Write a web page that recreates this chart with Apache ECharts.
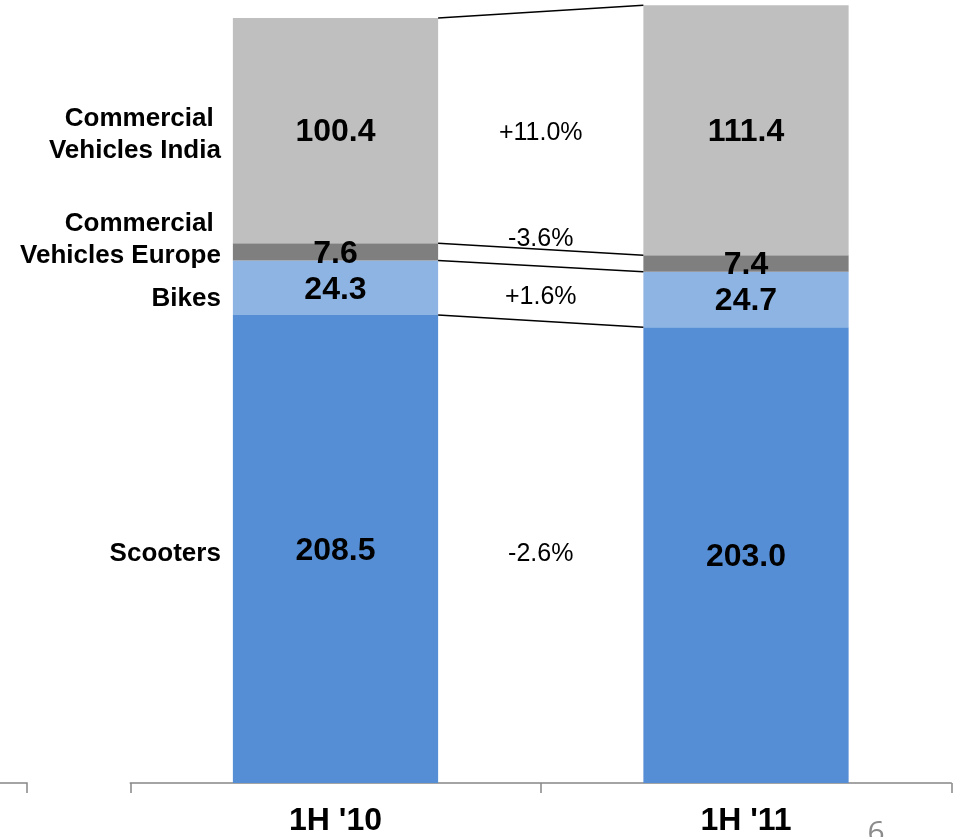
<!DOCTYPE html>
<html>
<head>
<meta charset="utf-8">
<title>Revenue by segment, 1H '10 vs 1H '11</title>
<script src="https://cdn.jsdelivr.net/npm/echarts@6/dist/echarts.min.js"></script>
<style>
  html, body { margin: 0; padding: 0; background: #ffffff; }
  #chart { width: 959px; height: 837px; }
</style>
</head>
<body>
<div id="chart"></div>
<script>
// Periods on the category axis
const categories = ["1H '10", "1H '11"];

// Segment values per period (stacked bottom to top)
const scooters = [208.5, 203.0];
const bikes = [24.3, 24.7];
const cvEurope = [7.6, 7.4];
const cvIndia = [100.4, 111.4];

// Segment names as shown beside the first bar
const segmentNames = ['Scooters', 'Bikes', 'Commercial Vehicles Europe', 'Commercial Vehicles India'];
const segmentLabels = ['Scooters', 'Bikes', 'Commercial \nVehicles Europe', 'Commercial \nVehicles India'];

// Period-on-period change for each segment
const growthLabels = ['-2.6%', '+1.6%', '-3.6%', '+11.0%'];

const pageNumber = '6';

// ---- styling ----
const FONT = '"Liberation Sans", Arial, Helvetica, sans-serif';
const segmentColors = ['#558ed5', '#8eb4e3', '#7f7f7f', '#bfbfbf'];
const BAR_RATIO = 0.5;
const AXIS_GREY = '#868686';
// small vertical nudges (px) for the side texts, keyed by segment
const sideLabelNudge = { 'Scooters': 5, 'Bikes': 11, 'Commercial Vehicles Europe': -12, 'Commercial Vehicles India': 4 };
const growthLabelNudge = { 'Scooters': 2, 'Bikes': 3, 'Commercial Vehicles Europe': -19, 'Commercial Vehicles India': 3 };

const seriesValues = [scooters, bikes, cvEurope, cvIndia];

// cumulative bottoms/tops of every segment in each period
const bounds = [];
const running = categories.map(() => 0);
seriesValues.forEach((vals, i) => {
  const lo = running.slice();
  vals.forEach((v, k) => { running[k] += v; });
  const hi = running.slice();
  bounds.push([0, hi[0], hi[1], lo[0], lo[1], i]);
});

const barSeries = seriesValues.map((vals, i) => ({
  name: segmentNames[i],
  type: 'bar',
  stack: 'total',
  barWidth: (BAR_RATIO * 100) + '%',
  data: vals,
  itemStyle: { color: segmentColors[i] },
  label: {
    show: true,
    position: 'inside',
    offset: [0, 2],
    formatter: p => p.value.toFixed(1),
    fontFamily: FONT,
    fontSize: 32,
    fontWeight: 'bold',
    color: '#000'
  },
  emphasis: { disabled: true },
  z: 2
}));

// connector lines between the bars, change labels and segment names
const bridgeSeries = {
  type: 'custom',
  name: 'bridge',
  clip: false,
  silent: true,
  encode: { x: 0, y: 1 },
  data: bounds,
  z: 3,
  renderItem(params, api) {
    const i = api.value(5);
    const name = segmentNames[i];
    const bandW = api.size([1, 0])[0];
    const half = bandW * BAR_RATIO / 2;
    const t0 = api.coord([0, api.value(1)]);
    const t1 = api.coord([1, api.value(2)]);
    const b0 = api.coord([0, api.value(3)]);
    const b1 = api.coord([1, api.value(4)]);
    const mid0 = (t0[1] + b0[1]) / 2;
    const mid1 = (t1[1] + b1[1]) / 2;
    return {
      type: 'group',
      children: [
        {
          type: 'line',
          shape: { x1: t0[0] + half, y1: t0[1], x2: t1[0] - half, y2: t1[1] },
          style: { stroke: '#000', lineWidth: 1.5 }
        },
        {
          type: 'text',
          style: {
            x: (t0[0] + t1[0]) / 2,
            y: (mid0 + mid1) / 2 + growthLabelNudge[name],
            text: growthLabels[i],
            align: 'center',
            verticalAlign: 'middle',
            fontFamily: FONT,
            fontSize: 25,
            fill: '#000'
          }
        },
        {
          type: 'text',
          style: {
            x: t0[0] - half - 12,
            y: mid0 + sideLabelNudge[name],
            text: segmentLabels[i],
            align: 'right',
            verticalAlign: 'middle',
            fontFamily: FONT,
            fontSize: 26,
            fontWeight: 'bold',
            lineHeight: 32,
            fill: '#000'
          }
        }
      ]
    };
  }
};

const chart = echarts.init(document.getElementById('chart'), null, { renderer: 'canvas' });
chart.setOption({
  animation: false,
  backgroundColor: '#ffffff',
  grid: { left: 130.25, right: 7.75, top: 1.8, height: 781.2, containLabel: false },
  xAxis: {
    type: 'category',
    data: categories,
    axisLine: { lineStyle: { color: AXIS_GREY, width: 1.5 } },
    axisTick: { show: true, length: 10, lineStyle: { color: AXIS_GREY, width: 1.5 } },
    axisLabel: {
      margin: 22,
      fontFamily: FONT,
      fontSize: 32,
      fontWeight: 'bold',
      color: '#000'
    },
    splitLine: { show: false }
  },
  yAxis: {
    type: 'value',
    min: 0,
    max: 348,
    show: false,
    splitLine: { show: false }
  },
  series: [...barSeries, bridgeSeries],
  graphic: [
    {
      type: 'polyline',
      silent: true,
      shape: { points: [[0, 783], [27, 783], [27, 793]] },
      style: { stroke: AXIS_GREY, lineWidth: 1.5, fill: null }
    },
    {
      type: 'text',
      silent: true,
      style: {
        x: 876,
        y: 833,
        text: pageNumber,
        align: 'center',
        verticalAlign: 'middle',
        fontFamily: '"Open Sans", "Noto Sans", sans-serif',
        fontSize: 30,
        fill: '#8c8c8c'
      }
    }
  ]
});
</script>
</body>
</html>
